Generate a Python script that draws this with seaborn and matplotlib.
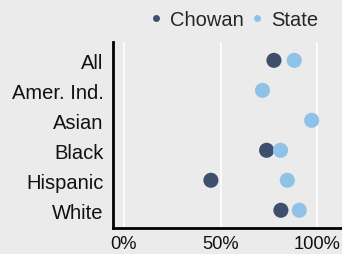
import numpy as np
import pandas as pd
import matplotlib
matplotlib.use("Agg")
import matplotlib.pyplot as plt
import seaborn as sns
from matplotlib.lines import Line2D

categories = ["All", "Amer. Ind.", "Asian", "Black", "Hispanic", "White"]
chowan = [77.6, np.nan, np.nan, 73.8, 45.0, 81.2]
state = [88.1, 71.7, 97.1, 81.0, 84.5, 90.7]
series_names = ["Chowan", "State"]
colors = {"Chowan": "#3d4f6d", "State": "#8ec2e6"}
xticks = [0, 50, 100]
xtick_labels = ["0%", "50%", "100%"]

df = pd.DataFrame({
    "category": pd.Categorical(categories * 2, categories=categories, ordered=True),
    "value": chowan + state,
    "series": ["Chowan"] * len(categories) + ["State"] * len(categories),
}).dropna()

sns.set_theme(style="white")
plt.rcParams["font.family"] = ["Liberation Sans", "DejaVu Sans"]
bg = "#ebebeb"
fig = plt.figure(figsize=(3.42, 2.55), dpi=100, facecolor=bg)
ax = fig.add_axes([0.3295, 0.101, 0.6705, 0.729])
ax.set_facecolor(bg)

sns.scatterplot(data=df, x="value", y="category", hue="series", hue_order=series_names,
                palette=colors, s=118, linewidth=0, ax=ax, legend=False, zorder=3)

ax.set_xlim(-5.8, 112.8)
ax.set_ylim(5.6, -0.6)
ax.set_xticks(xticks)
ax.set_xticklabels(xtick_labels, fontsize=13.2, color="#111111")
ax.tick_params(axis="y", labelsize=14.5, colors="#111111", length=0, pad=6.5)
ax.tick_params(axis="x", length=0, pad=5)
ax.grid(axis="x", color="white", linewidth=1.2)
ax.set_axisbelow(True)
ax.set_xlabel("")
ax.set_ylabel("")
for side in ["top", "right"]:
    ax.spines[side].set_visible(False)
for side in ["left", "bottom"]:
    ax.spines[side].set_color("black")
    ax.spines[side].set_linewidth(2)

handles = [Line2D([0], [0], marker="o", linestyle="", markersize=5,
                  markerfacecolor=colors[n], markeredgewidth=0) for n in series_names]
fig.legend(handles, series_names, loc="center right", bbox_to_anchor=(0.93, 0.919),
           ncol=2, frameon=False, fontsize=14.5, handletextpad=0.2, columnspacing=0.15,
           handlelength=1.0, borderaxespad=0, borderpad=0)

fig.savefig("out.png", dpi=100, facecolor=bg)
